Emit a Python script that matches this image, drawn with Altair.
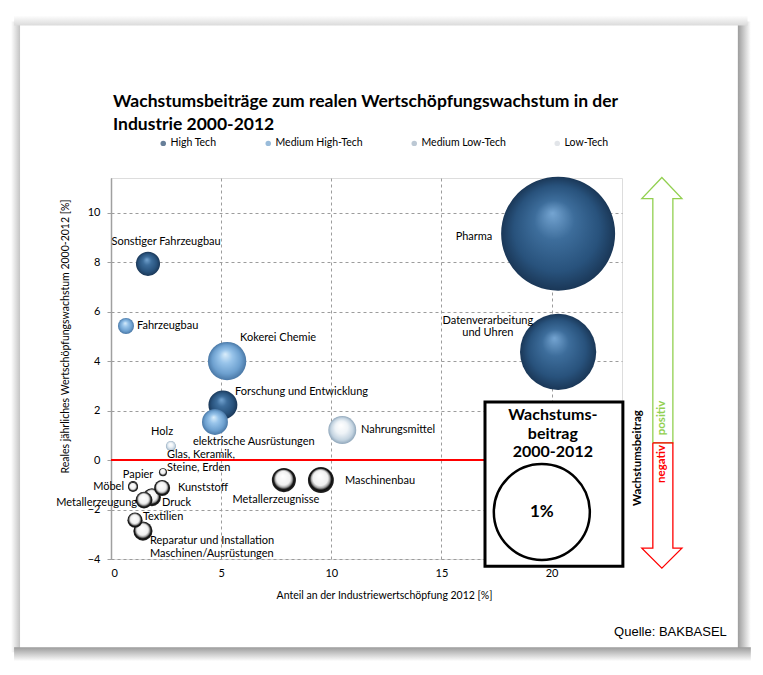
import altair as alt
import pandas as pd

# ---------------- data ----------------
branchen = ["Pharma", "Datenverarbeitung und Uhren", "Sonstiger Fahrzeugbau",
            "Forschung und Entwicklung", "Fahrzeugbau", "Kokerei Chemie",
            "elektrische Ausrüstungen", "Maschinenbau", "Nahrungsmittel", "Holz",
            "Papier", "Möbel", "Textilien", "Druck", "Glas, Keramik, Steine, Erden",
            "Kunststoff", "Metallerzeugung", "Metallerzeugnisse",
            "Reparatur und Installation Maschinen/Ausrüstungen"]
gruppe = (["High Tech"] * 4 + ["Medium High-Tech"] * 4 + ["Low-Tech"] * 6
          + ["Medium Low-Tech"] * 5)
anteil = [20.3, 20.3, 1.68, 5.08, 0.68, 5.27, 4.72, 9.53, 10.5, 2.72,
          1.0, 1.0, 1.09, 1.86, 2.36, 2.32, 1.5, 7.85, 1.45]
wachstum = [9.15, 4.37, 7.93, 2.23, 5.42, 4.0, 1.54, -0.81, 1.21, 0.57,
            -1.05, -1.09, -2.43, -1.5, -0.49, -1.13, -1.62, -0.81, -2.87]
beitrag = [1.41, 0.63, 0.063, 0.091, 0.028, 0.16, 0.073, -0.073, 0.085, 0.011,
           -0.011, -0.011, -0.025, -0.035, -0.007, -0.028, -0.031, -0.063, -0.04]

label_text = ["Pharma", "Datenverarbeitung\nund Uhren", "Sonstiger Fahrzeugbau",
              "Forschung und Entwicklung", "Fahrzeugbau", "Kokerei Chemie",
              "elektrische Ausrüstungen", "Maschinenbau", "Nahrungsmittel", "Holz",
              "Papier", "Möbel", "Textilien", "Druck", "Glas, Keramik,\nSteine, Erden",
              "Kunststoff", "Metallerzeugung", "Metallerzeugnisse",
              "Reparatur und Installation\nMaschinen/Ausrüstungen"]
label_x = [16.48, 17.11, 2.5, 5.63, 1.18, 5.86, 3.72, 10.62, 11.35, 2.32,
           1.23, 0.59, 1.45, 2.31, 2.54, 3.04, 1.18, 7.49, 1.77]
label_y = [9.02, 5.63, 8.82, 2.75, 5.42, 4.94, 0.73, -0.85, 1.21, 1.13,
           -0.61, -1.09, -2.31, -1.74, 0.20, -1.13, -1.74, -1.62, -3.28]
label_align = ["center", "center", "center", "left", "left", "left", "left", "left",
               "left", "center", "center", "right", "left", "left", "left", "left",
               "right", "center", "left"]

gruppen_legende = ["High Tech", "Medium High-Tech", "Medium Low-Tech", "Low-Tech"]
farben_legende = ["#27496d", "#6f9fcb", "#9fb1c2", "#d5dadf"]

x_ticks = [0, 5, 10, 15, 20]
y_ticks = [-4, -2, 0, 2, 4, 6, 8, 10]

# reference bubble ("1%") box
box_x = [16.98]; box_x2 = [23.24]; box_y = [2.35]; box_y2 = [-4.29]
box_text_x = [20.06]; box_text_y = [1.82]
ref_x = [19.56]; ref_y = [-2.10]; ref_beitrag = [1.0]

# double arrow (growth contribution positive / negative)
pfeil_pos_x = [24.60, 24.60, 24.10, 25.01, 25.92, 25.51, 25.51, 24.60]
pfeil_pos_y = [0.69, 10.57, 10.57, 11.42, 10.57, 10.57, 0.69, 0.69]
pfeil_neg_x = [24.60, 24.60, 24.10, 25.01, 25.92, 25.51, 25.51, 24.60]
pfeil_neg_y = [0.69, -3.56, -3.56, -4.37, -3.56, -3.56, 0.69, 0.69]

# card shadow strips
sh_left = dict(x=[-4.54], x2=[-4.13], y=[17.73], y2=[-7.77])
sh_right = dict(x=[28.46], x2=[29.05], y=[17.73], y2=[-7.77])
sh_top = dict(x=[-4.4], x2=[28.9], y=[17.97], y2=[17.56])
sh_bottom = dict(x=[-4.4], x2=[29.05], y=[-7.57], y2=[-8.13])

# ---------------- build ----------------
df = pd.DataFrame({"branche": branchen, "gruppe": gruppe, "anteil": anteil,
                   "wachstum": wachstum, "beitrag": beitrag})
df["absb"] = df["beitrag"].abs()
df["typ"] = [("negativ" if b < 0 else g) for b, g in zip(beitrag, gruppe)]

lab = pd.DataFrame({"text": label_text, "anteil": label_x, "wachstum": label_y,
                    "align": label_align})

FONT = "Lato"
x_scale = alt.Scale(domain=[0, 23.2], nice=False, zero=False)
y_scale = alt.Scale(domain=[-4, 11.4], nice=False, zero=False)
# Vega symbol size = area of the bounding square -> (2r)^2, r = 48 px for 1 %
size_scale = alt.Scale(domain=[0, 1.5], range=[0, 96 * 96 * 1.5])

x_axis = alt.Axis(values=x_ticks, title="Anteil an der Industriewertschöpfung 2012 [%]",
                  grid=True, gridDash=[3, 3], gridColor="#9c9c9c", domain=False,
                  ticks=False, labelPadding=8, labelFont=FONT, labelFontSize=11,
                  labelColor="#000", titleFont=FONT, titleFontSize=10.5,
                  titleFontWeight="normal", titleColor="#000", titleX=273, titleY=36,
                  titleBaseline="middle")
y_axis = alt.Axis(values=y_ticks, title="Reales jährliches Wertschöpfungswachstum 2000-2012 [%]",
                  grid=True, gridDash=[3, 3], gridColor="#9c9c9c", domain=True,
                  domainColor="#a0a0a0", domainWidth=1.5, ticks=True, tickSize=4,
                  tickColor="#a0a0a0", labelPadding=7, labelFont=FONT, labelFontSize=11,
                  labelColor="#000", titleFont=FONT, titleFontSize=10.5,
                  titleFontWeight="normal", titleColor="#000", titleX=-46, titleY=158,
                  titleBaseline="middle", titleAlign="center")


def X(field="anteil"):
    return alt.X(f"{field}:Q", scale=x_scale, axis=x_axis)


def Y(field="wachstum"):
    return alt.Y(f"{field}:Q", scale=y_scale, axis=y_axis)


def radial(stops):
    return alt.RadialGradient(gradient="radial",
                              stops=[alt.GradientStop(offset=o, color=c) for o, c in stops],
                              x1=0.45, y1=0.32, r1=0, x2=0.5, y2=0.5, r2=0.5)


def linear(stops, horizontal):
    return alt.LinearGradient(gradient="linear",
                              stops=[alt.GradientStop(offset=o, color=c) for o, c in stops],
                              x1=0, y1=0, x2=1 if horizontal else 0, y2=0 if horizontal else 1)


fills = {
    "High Tech": radial([(0, "#75a5d2"), (0.35, "#3d6d9b"), (0.75, "#28527c"), (1, "#1a3757")]),
    "Medium High-Tech": radial([(0, "#dbeefb"), (0.35, "#98c4ea"), (0.75, "#6da0cf"), (1, "#4a78a6")]),
    "Low-Tech": radial([(0, "#ffffff"), (0.45, "#eef3f7"), (0.8, "#c3d3e0"), (1, "#8fa6ba")]),
    "negativ": radial([(0, "#ffffff"), (0.58, "#f0f0f0"), (0.72, "#a0a0a0"), (0.84, "#0d0d0d"), (1, "#262626")]),
}


def shadow(d, grad):
    return alt.Chart(pd.DataFrame(d)).mark_rect(fill=grad, clip=False).encode(
        x=X("x"), x2="x2", y=Y("y"), y2="y2")


layers = [
    shadow(sh_left, linear([(0, "#ffffff"), (1, "#c4c4c4")], True)),
    shadow(sh_right, linear([(0, "#9c9c9c"), (1, "#ffffff")], True)),
    shadow(sh_top, linear([(0, "#ffffff"), (1, "#dadada")], False)),
    shadow(sh_bottom, linear([(0, "#9c9c9c"), (1, "#ffffff")], False)),
]

# red zero line
layers.append(alt.Chart(pd.DataFrame({"wachstum": [0]})).mark_rule(
    color="#ff0000", strokeWidth=2).encode(y=Y()))

# bubbles
for typ in ["High Tech", "Medium High-Tech", "Low-Tech", "negativ"]:
    layers.append(alt.Chart(df).transform_filter(alt.datum.typ == typ).mark_circle(
        fill=fills[typ], opacity=1, strokeWidth=0).encode(
        x=X(), y=Y(), size=alt.Size("absb:Q", scale=size_scale, legend=None),
        order=alt.Order("absb:Q", sort="descending")))

# bubble labels
for al in ["left", "center", "right"]:
    layers.append(alt.Chart(lab).transform_filter(alt.datum.align == al).mark_text(
        align=al, baseline="middle", font=FONT, fontSize=11, lineBreak="\n",
        lineHeight=12.5, color="#000").encode(x=X(), y=Y(), text="text:N"))

# reference box
layers.append(alt.Chart(pd.DataFrame({"x": box_x, "x2": box_x2, "y": box_y, "y2": box_y2}))
              .mark_rect(fill="white", stroke="black", strokeWidth=3, clip=False)
              .encode(x=X("x"), x2="x2", y=Y("y"), y2="y2"))
layers.append(alt.Chart(pd.DataFrame({"anteil": box_text_x, "wachstum": box_text_y,
                                      "t": ["Wachstums-\nbeitrag\n2000-2012"]}))
              .mark_text(font=FONT, fontSize=16, fontWeight="bold", lineBreak="\n",
                         lineHeight=18.5, baseline="middle", align="center", color="#000")
              .encode(x=X(), y=Y(), text="t:N"))
layers.append(alt.Chart(pd.DataFrame({"anteil": ref_x, "wachstum": ref_y, "absb": ref_beitrag}))
              .mark_point(shape="circle", filled=False, color="black", strokeWidth=2.5,
                          opacity=1, clip=False)
              .encode(x=X(), y=Y(), size=alt.Size("absb:Q", scale=size_scale, legend=None)))
layers.append(alt.Chart(pd.DataFrame({"anteil": ref_x, "wachstum": ref_y, "t": ["1%"]}))
              .mark_text(font=FONT, fontSize=17, fontWeight="bold", color="#000",
                         baseline="middle", align="center")
              .encode(x=X(), y=Y(), text="t:N"))

# double arrow
for xs, ys, col in [(pfeil_pos_x, pfeil_pos_y, "#92d050"), (pfeil_neg_x, pfeil_neg_y, "#ff0000")]:
    layers.append(alt.Chart(pd.DataFrame({"x": xs, "y": ys, "i": list(range(len(xs)))}))
                  .mark_line(color=col, strokeWidth=1.3, clip=False)
                  .encode(x=X("x"), y=Y("y"), order="i:Q"))
pfeil_text = pd.DataFrame({"anteil": [23.92, 25.01, 25.01], "wachstum": [0.08, 1.70, -0.16],
                           "t": ["Wachstumsbeitrag", "positiv", "negativ"],
                           "c": ["black", "green", "red"]})
for c, col in [("black", "#000000"), ("green", "#92d050"), ("red", "#ff0000")]:
    layers.append(alt.Chart(pfeil_text).transform_filter(alt.datum.c == c)
                  .mark_text(angle=270, font=FONT, fontSize=11.5, fontWeight="bold",
                             color=col, baseline="middle", align="center")
                  .encode(x=X(), y=Y(), text="t:N"))

# source
layers.append(alt.Chart(pd.DataFrame({"anteil": [27.96], "wachstum": [-6.96],
                                      "t": ["Quelle: BAKBASEL"]}))
              .mark_text(font="Liberation Sans", fontSize=13, color="#000", align="right",
                         baseline="middle")
              .encode(x=X(), y=Y(), text="t:N"))

# legend carrier (invisible, clipped)
legend_df = pd.DataFrame({"gruppe": gruppen_legende, "anteil": [-50] * 4, "wachstum": [-50] * 4})
layers.append(alt.Chart(legend_df).mark_circle(clip=True).encode(
    x=X(), y=Y(),
    color=alt.Color("gruppe:N", scale=alt.Scale(domain=gruppen_legende, range=farben_legende),
                    legend=alt.Legend(orient="none", legendX=47, legendY=-40,
                                      direction="horizontal", title=None, symbolSize=30,
                                      symbolType="circle", labelFont=FONT, labelFontSize=10.5,
                                      labelColor="#000", columnPadding=46, labelOffset=2,
                                      symbolStrokeWidth=0))))

chart = alt.layer(*layers).properties(
    width=511, height=381,
    padding={"left": 103, "top": 170, "right": 130, "bottom": 104},
    autosize=alt.AutoSizeParams(type="none"),
    title=alt.TitleParams(
        text=["Wachstumsbeiträge zum realen Wertschöpfungswachstum in der",
              "Industrie 2000-2012"],
        anchor="start", frame="group", font=FONT, fontSize=17.5, fontWeight="bold",
        color="#000", lineHeight=23, offset=2, dx=2, dy=120),
).configure_view(stroke=None).configure(background="white")

chart.save("out.html", embed_options={"renderer": "svg", "actions": False})
